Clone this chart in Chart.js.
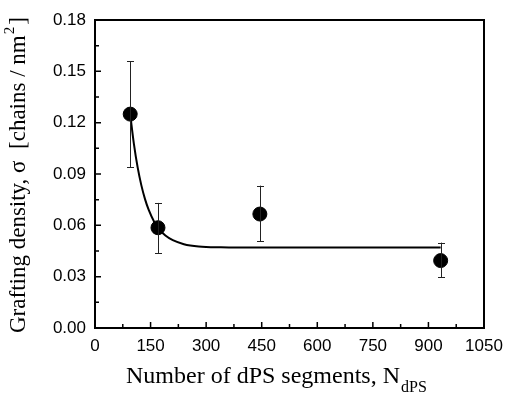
<!DOCTYPE html>
<html>
<head>
<meta charset="utf-8">
<script src="https://cdn.jsdelivr.net/npm/chart.js@4/dist/chart.umd.min.js"></script>
<style>
  html, body { margin: 0; padding: 0; background: #fff; }
  #wrap { width: 505px; height: 395px; position: relative; }
</style>
</head>
<body>
<div id="wrap"><canvas id="c"></canvas></div>
<script>
// ---- data ----
const nSegments = [95, 170, 445, 933];
const sigma     = [0.125, 0.0586, 0.0666, 0.0394];
const sigmaErrUp   = [0.031, 0.0145, 0.0166, 0.0105];
const sigmaErrDown = [0.031, 0.0148, 0.0160, 0.0098];

// fitted curve
const fitX = [95, 105, 115, 125, 135, 145, 160, 175, 190, 210, 240, 280, 340, 450, 600, 800, 933];
const fitY = [0.125, 0.1076, 0.094, 0.0835, 0.0753, 0.069, 0.062, 0.0573, 0.054, 0.0513, 0.049, 0.0477, 0.0472, 0.047, 0.047, 0.047, 0.047];

const xTickStep = 150, xMax = 1050;
const yTickStep = 0.03, yMax = 0.18;

const xTitle = "Number of dPS segments, N";
const xTitleSub = "dPS";
const yTitle = "Grafting density, \u03c3  [chains / nm";
const yTitleSup = "2";
const yTitleEnd = "]";

const serif = '"Liberation Serif", "Times New Roman", serif';
const sans = '"Liberation Sans", Arial, sans-serif';

const fitPts = fitX.map((x, i) => ({x, y: fitY[i]}));
const dataPts = nSegments.map((x, i) => ({x, y: sigma[i]}));

const errorBars = {
  id: 'errorBars',
  afterDatasetsDraw(chart) {
    const {ctx, scales: {x, y}} = chart;
    ctx.save();
    ctx.strokeStyle = '#222';
    ctx.lineWidth = 1;
    const cap = 3.5;
    nSegments.forEach((n, i) => {
      const px = Math.round(x.getPixelForValue(n)) + 0.5;
      const yt = y.getPixelForValue(sigma[i] + sigmaErrUp[i]);
      const yb = y.getPixelForValue(sigma[i] - sigmaErrDown[i]);
      ctx.beginPath();
      ctx.moveTo(px, yt); ctx.lineTo(px, yb);
      ctx.moveTo(px - cap, Math.round(yt) + 0.5); ctx.lineTo(px + cap, Math.round(yt) + 0.5);
      ctx.moveTo(px - cap, Math.round(yb) + 0.5); ctx.lineTo(px + cap, Math.round(yb) + 0.5);
      ctx.stroke();
    });
    ctx.restore();
  }
};

const frameAndTitles = {
  id: 'frameAndTitles',
  afterDraw(chart) {
    const {ctx, chartArea: a, scales: {x, y}} = chart;
    ctx.save();
    ctx.strokeStyle = '#000';
    ctx.lineWidth = 1.5;
    // inner ticks
    ctx.beginPath();
    for (let v = 0; v <= xMax + 1e-9; v += xTickStep / 2) {
      const px = x.getPixelForValue(v);
      const major = Math.abs((v / xTickStep) - Math.round(v / xTickStep)) < 1e-6;
      ctx.moveTo(px, a.bottom); ctx.lineTo(px, a.bottom - (major ? 6 : 4));
    }
    for (let k = 0; k <= Math.round(yMax / (yTickStep / 2)); k++) {
      const v = k * yTickStep / 2;
      const py = y.getPixelForValue(v);
      const major = k % 2 === 0;
      ctx.moveTo(a.left, py); ctx.lineTo(a.left + (major ? 6 : 4), py);
    }
    ctx.stroke();
    // frame
    ctx.lineWidth = 2;
    ctx.strokeRect(a.left, a.top, a.right - a.left, a.bottom - a.top);

    // x title
    ctx.fillStyle = '#000';
    ctx.textBaseline = 'alphabetic';
    ctx.textAlign = 'left';
    ctx.font = '24px ' + serif;
    const w1 = ctx.measureText(xTitle).width;
    const xStart = 126;
    ctx.fillText(xTitle, xStart, 383);
    ctx.font = '16px ' + serif;
    ctx.fillText(xTitleSub, xStart + w1 + 1, 392);

    // y title
    ctx.save();
    ctx.translate(25, 333);
    ctx.rotate(-Math.PI / 2);
    ctx.font = '23px ' + serif;
    ctx.fillText(yTitle, 0, 0);
    const wy = ctx.measureText(yTitle).width;
    ctx.font = '15px ' + serif;
    ctx.fillText(yTitleSup, wy + 1, -11);
    const ws = ctx.measureText(yTitleSup).width;
    ctx.font = '23px ' + serif;
    ctx.fillText(yTitleEnd, wy + ws + 3, 0);
    ctx.restore();
    ctx.restore();
  }
};

new Chart(document.getElementById('c'), {
  type: 'scatter',
  data: {
    datasets: [
      {
        label: 'fit',
        data: fitPts,
        showLine: true,
        borderColor: '#000',
        borderWidth: 2,
        pointRadius: 0,
        cubicInterpolationMode: 'monotone',
        order: 2
      },
      {
        label: 'sigma',
        data: dataPts,
        backgroundColor: '#000',
        borderColor: '#000',
        pointRadius: 7,
        pointHoverRadius: 7,
        order: 1
      }
    ]
  },
  options: {
    responsive: true,
    maintainAspectRatio: false,
    animation: false,
    events: [],
    layout: { padding: { top: 20, right: 21, left: 0, bottom: 0 } },
    plugins: { legend: { display: false }, tooltip: { enabled: false } },
    scales: {
      x: {
        type: 'linear',
        min: 0, max: xMax,
        grid: { display: false, drawTicks: false },
        border: { display: false },
        ticks: {
          stepSize: xTickStep,
          padding: 8,
          color: '#000',
          font: { family: sans, size: 17 },
          maxRotation: 0,
          callback: v => String(v)
        },
        afterFit(s) { s.height = 67; s.paddingRight = 0; s.paddingLeft = 0; }
      },
      y: {
        type: 'linear',
        min: 0, max: yMax,
        grid: { display: false, drawTicks: false },
        border: { display: false },
        ticks: {
          stepSize: yTickStep,
          padding: 9,
          color: '#000',
          font: { family: sans, size: 17 },
          callback: v => v.toFixed(2)
        },
        afterFit(s) { s.width = 95; s.paddingTop = 0; s.paddingBottom = 0; }
      }
    }
  },
  plugins: [errorBars, frameAndTitles]
});
</script>
</body>
</html>
